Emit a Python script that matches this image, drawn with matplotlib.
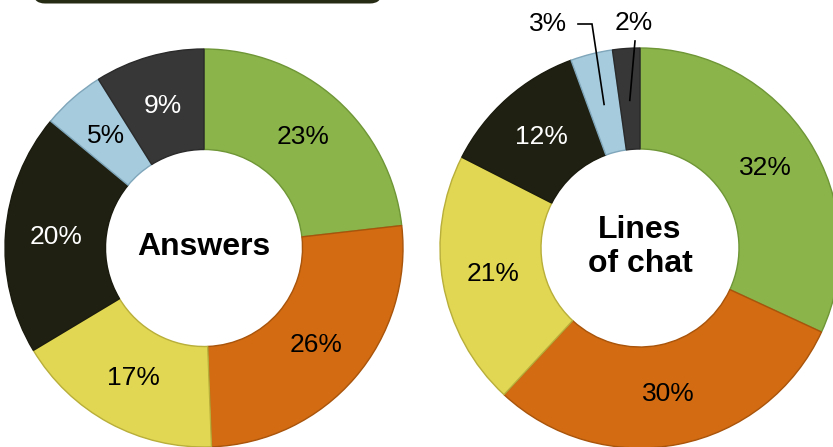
import matplotlib
matplotlib.use("Agg")
import matplotlib.pyplot as plt
from matplotlib.patches import FancyBboxPatch
import numpy as np

plt.rcParams['font.family'] = ['Liberation Sans', 'DejaVu Sans']

categories = ["A", "B", "C", "D", "E", "F"]
answers = [23.2, 26.2, 17.0, 19.6, 5.1, 8.9]
lines_of_chat = [31.9, 30.0, 20.6, 11.9, 3.4, 2.2]
titles = ["Answers", "Lines\nof chat"]

colors = ["#8BB44B", "#D26B11", "#E1D752", "#1F2012", "#A6CBDD", "#373737"]
edges = ["#6F9636", "#A9540B", "#B8AE3A", "#1A1B0E", "#7FA6BA", "#2A2A2A"]
text_colors = ["black", "black", "black", "white", "black", "white"]

fig = plt.figure(figsize=(8.33, 4.47), dpi=100)
ax = fig.add_axes([0, 0, 1, 1])
ax.set_xlim(0, 833)
ax.set_ylim(0, 447)
ax.set_aspect('equal')
ax.axis('off')

# dark header box, partly above the figure
box = FancyBboxPatch((33, 443.5), 349, 40, boxstyle="round,pad=0,rounding_size=12",
                     facecolor="#262B14", edgecolor="none", transform=ax.transData, clip_on=False)
ax.add_patch(box)

FS = 19

def donut(values, center, radius, title):
    wedges, texts, autotexts = ax.pie(
        values, colors=colors, startangle=90, counterclock=False,
        center=center, radius=radius,
        autopct=lambda p: f"{round(p)}%", pctdistance=0.745,
        wedgeprops=dict(width=radius * 0.505, linewidth=1.0),
        textprops=dict(fontsize=FS), frame=True)
    for w, ec in zip(wedges, edges):
        w.set_edgecolor(ec)
    for t, tc in zip(autotexts, text_colors):
        t.set_color(tc)
    ax.text(center[0], center[1] + 1, title, ha='center', va='center',
            fontsize=23, fontweight='bold', linespacing=1.15)
    return wedges, autotexts

donut(answers, (204, 199), 199, titles[0])
wedges, autotexts = donut(lines_of_chat, (640, 199), 200, titles[1])

# small slices on the right: labels outside with leader lines
cx, cy, R = 640, 199, 200
label_pos = {4: (548, 423), 5: (634, 424)}
for i in (4, 5):
    autotexts[i].set_visible(False)
    w = wedges[i]
    mid = np.deg2rad((w.theta1 + w.theta2) / 2)
    px, py = cx + 148 * np.cos(mid), cy + 148 * np.sin(mid)
    lx, ly = label_pos[i]
    ax.text(lx, ly, f"{round(lines_of_chat[i])}%", ha='center', va='center', fontsize=FS)
    if i == 4:
        ax.plot([lx + 30, lx + 44, px], [ly, ly, py], color='black', lw=1.2,
                solid_joinstyle='miter')
    else:
        ax.plot([lx + 1, px], [ly - 18, py], color='black', lw=1.2)

ax.set_xlim(0, 833)
ax.set_ylim(0, 447)
ax.axis('off')
fig.savefig("out.png", dpi=100)
